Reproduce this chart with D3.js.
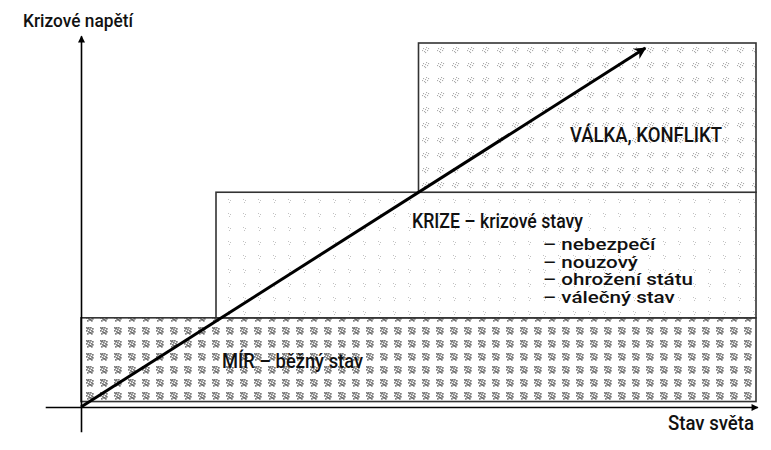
<!DOCTYPE html>
<html>
<head>
<meta charset="utf-8">
<script src="https://cdn.jsdelivr.net/npm/d3@7"></script>
<style>
  body { margin: 0; background: #fff; }
  svg text { font-family: Roboto, "Liberation Sans", sans-serif; font-weight: 500; fill: #111; }
</style>
</head>
<body>
<svg id="graph" width="771" height="450"></svg>
<script>
// zones (world state levels), in chart units: x from left edge, y bottom..top
let zoneNames = ["mir", "krize", "valka"];
let zoneX0 = [0, 2, 5];
let zoneY0 = [0.15, 2.45, 5.9];
let zoneY1 = [2.45, 5.9, 10];

let zoneLabels = ["MÍR – běžný stav", "KRIZE – krizové stavy", "VÁLKA, KONFLIKT"];
let crisisTypes = ["– nebezpečí", "– nouzový", "– ohrožení státu", "– válečný stav"];

// trend arrow (start, end)
let arrowX = [0, 8.36];
let arrowY = [0, 9.86];

let yTitle = "Krizové napětí";
let xTitle = "Stav světa";

function chartData() {
  let svg = d3.select("#graph");

  //====================== SCALES ======================
  let x = d3.scaleLinear().domain([0, 10]).range([81, 756]),
      y = d3.scaleLinear().domain([0, 10]).range([407, 43]);

  let defs = svg.append("defs");

  // speckle patterns
  let patterns = [
    {id: "pat-mir", w: 14, h: 13, dots: 14, size: 1.7, color: "#5a5a5a", op: 0.8},
    {id: "pat-krize", w: 15, h: 14, dots: 3, size: 1, color: "#999", op: 0.6},
    {id: "pat-valka", w: 15, h: 15, dots: 8, size: 1.1, color: "#888", op: 0.7}
  ];
  let offs = [[3,3],[5,4],[4,6],[6,2],[7,5],[2,5],[5,7],[8,3],[3,8],[6,7],[8,6],[4,2],[7,8],[2,2]];
  patterns.forEach(function(p) {
    let pt = defs.append("pattern")
      .attr("id", p.id)
      .attr("patternUnits", "userSpaceOnUse")
      .attr("width", p.w).attr("height", p.h);
    pt.append("rect").attr("width", p.w).attr("height", p.h).attr("fill", "#fff");
    pt.selectAll("rect.d")
      .data(offs.slice(0, p.dots))
      .enter().append("rect")
      .attr("class", "d")
      .attr("x", function(d) { return d[0]; })
      .attr("y", function(d) { return d[1]; })
      .attr("width", p.size).attr("height", p.size)
      .attr("fill", p.color)
      .attr("opacity", p.op);
  });

  // arrow markers
  defs.append("marker")
    .attr("id", "axisHead")
    .attr("viewBox", "0 0 10 10")
    .attr("refX", 9).attr("refY", 5)
    .attr("markerUnits", "userSpaceOnUse")
    .attr("markerWidth", 9).attr("markerHeight", 7)
    .attr("orient", "auto")
    .append("path").attr("d", "M0,0L10,5L0,10z").attr("fill", "#000");

  defs.append("marker")
    .attr("id", "trendHead")
    .attr("viewBox", "0 0 10 10")
    .attr("refX", 9).attr("refY", 5)
    .attr("markerUnits", "userSpaceOnUse")
    .attr("markerWidth", 16).attr("markerHeight", 12)
    .attr("orient", "auto")
    .append("path").attr("d", "M0,0L10,5L0,10L3,5z").attr("fill", "#000");

  //====================== ZONES ======================
  let zones = zoneNames.map(function(n, i) {
    return {id: n, x0: zoneX0[i], y0: zoneY0[i], y1: zoneY1[i]};
  });

  svg.selectAll(".zone")
    .data(zones)
    .enter().append("rect")
      .attr("class", "zone")
      .attr("x", function(d) { return x(d.x0); })
      .attr("y", function(d) { return y(d.y1); })
      .attr("width", function(d) { return x(10) - x(d.x0); })
      .attr("height", function(d) { return y(d.y0) - y(d.y1); })
      .attr("fill", function(d) { return "url(#pat-" + d.id + ")"; })
      .attr("stroke", "#333")
      .attr("stroke-width", 1.6);

  //====================== AXES ======================
  let xAxisScale = d3.scaleLinear().domain([-0.53, 10.02]).range([x(-0.53), x(10.02)]);
  let yAxisScale = d3.scaleLinear().domain([-0.68, 10.2]).range([y(-0.68), y(10.2)]);

  let gx = svg.append("g")
    .attr("class", "axis axis--x")
    .attr("transform", "translate(0," + y(0) + ")")
    .call(d3.axisBottom(xAxisScale).tickValues([]).tickSizeOuter(0));
  gx.select(".domain").attr("stroke-width", 1.6).attr("marker-end", "url(#axisHead)");

  let gy = svg.append("g")
    .attr("class", "axis axis--y")
    .attr("transform", "translate(" + x(0) + ",0)")
    .call(d3.axisLeft(yAxisScale).tickValues([]).tickSizeOuter(0));
  gy.select(".domain").attr("stroke-width", 1.6).attr("marker-end", "url(#axisHead)");

  //====================== TREND ARROW ======================
  svg.append("line")
    .attr("x1", x(arrowX[0])).attr("y1", y(arrowY[0]))
    .attr("x2", x(arrowX[1])).attr("y2", y(arrowY[1]))
    .attr("stroke", "#000")
    .attr("stroke-width", 3)
    .attr("marker-end", "url(#trendHead)");

  //====================== LABELS ======================
  // condensed look: squeeze glyphs to the widths seen in the reference
  svg.append("text").attr("x", 23).attr("y", 27)
    .attr("textLength", 110).attr("lengthAdjust", "spacingAndGlyphs")
    .style("font-size", "19px").text(yTitle);
  svg.append("text").attr("x", 668).attr("y", 430)
    .attr("textLength", 86).attr("lengthAdjust", "spacingAndGlyphs")
    .style("font-size", "20px").text(xTitle);

  let labelPos = [[222, 368, 141], [412, 228, 171], [570, 142, 152]];
  svg.selectAll(".zoneLabel")
    .data(zoneLabels)
    .enter().append("text")
      .attr("class", "zoneLabel")
      .attr("x", function(d, i) { return labelPos[i][0]; })
      .attr("y", function(d, i) { return labelPos[i][1]; })
      .attr("textLength", function(d, i) { return labelPos[i][2]; })
      .attr("lengthAdjust", "spacingAndGlyphs")
      .style("font-size", "21px")
      .text(function(d) { return d; });

  let crisis = svg.selectAll(".crisis")
    .data(crisisTypes)
    .enter().append("text")
      .attr("class", "crisis")
      .attr("x", 543)
      .attr("y", function(d, i) { return 250 + i * 17.7; })
      .style("font-size", "16.5px")
      .text(function(d) { return d; });

  // one common squeeze factor so the longest item ends where the reference does
  let k = 150 / crisis.nodes()[2].getComputedTextLength();
  crisis.each(function() {
    d3.select(this)
      .attr("textLength", this.getComputedTextLength() * k)
      .attr("lengthAdjust", "spacingAndGlyphs");
  });
}

chartData();
</script>
</body>
</html>
